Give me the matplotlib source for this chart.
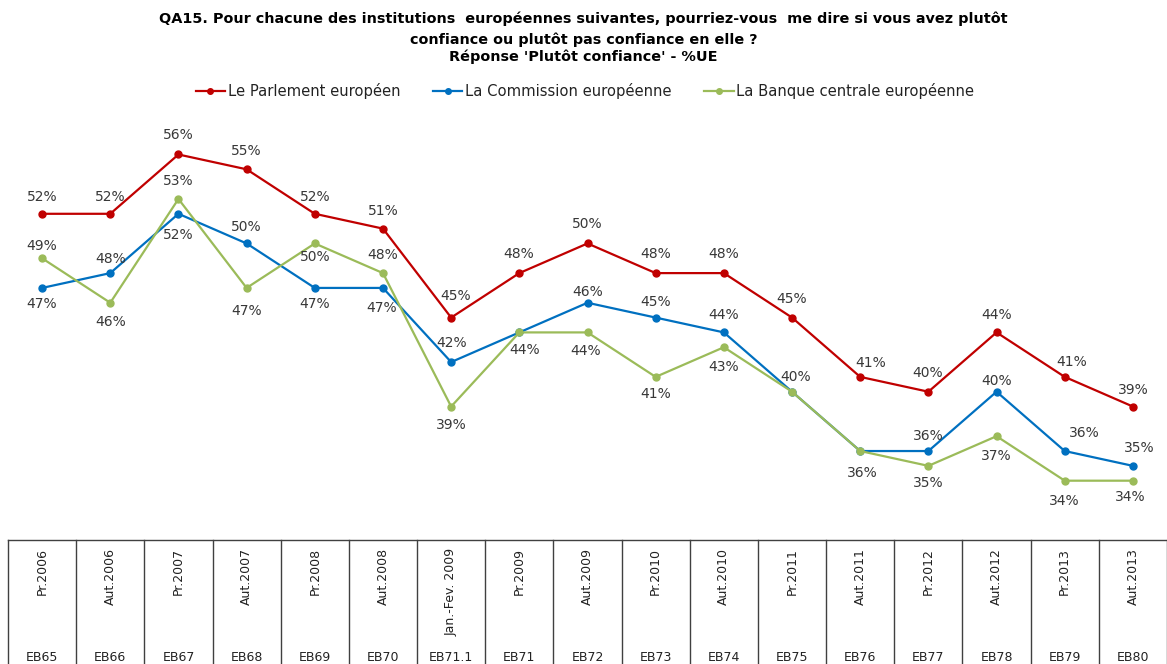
import matplotlib
matplotlib.use("Agg")
import matplotlib.pyplot as plt
from matplotlib.lines import Line2D

# données
periodes = ["Pr.2006", "Aut.2006", "Pr.2007", "Aut.2007", "Pr.2008", "Aut.2008",
            "Jan.-Fev. 2009", "Pr.2009", "Aut.2009", "Pr.2010", "Aut.2010", "Pr.2011",
            "Aut.2011", "Pr.2012", "Aut.2012", "Pr.2013", "Aut.2013"]
vagues = ["EB65", "EB66", "EB67", "EB68", "EB69", "EB70", "EB71.1", "EB71", "EB72",
          "EB73", "EB74", "EB75", "EB76", "EB77", "EB78", "EB79", "EB80"]
parlement = [52, 52, 56, 55, 52, 51, 45, 48, 50, 48, 48, 45, 41, 40, 44, 41, 39]
commission = [47, 48, 52, 50, 47, 47, 42, 44, 46, 45, 44, 40, 36, 36, 40, 36, 35]
bce = [49, 46, 53, 47, 50, 48, 39, 44, 44, 41, 43, 40, 36, 35, 37, 34, 34]

noms = ["Le Parlement européen", "La Commission européenne", "La Banque centrale européenne"]
couleurs = ["#C00000", "#0070C0", "#9BBB59"]

# placement des étiquettes (décalage en pixels, None = pas d'étiquette)
off_parl = [(0, 17), (0, 17), (0, 19), (0, 18), (0, 17), (0, 18), (4, 22), (-1, 19), (0, 19),
            (0, 19), (0, 19), (0, 19), (10, 14), (-1, 19), (0, 17), (7, 15), (0, 17)]
off_comm = [(0, -16), (0, 14), (0, -21), (0, 16), (0, -16), (-1, -20), (0, 19), None, (0, 11),
            (0, 16), (0, 17), (4, 15), None, (0, 15), (0, 11), (20, 18), (6, 18)]
off_bce = [(0, 12), (0, -19), (0, 18), (0, -23), (0, -14), (0, 18), (0, -18), (5, -18), (-2, -19),
           (0, -17), (0, -20), None, (2, -22), (0, -17), (0, -20), (0, -20), (-3, -16)]

W, H = 1167, 664
fig = plt.figure(figsize=(W / 100, H / 100), dpi=100)

ax = fig.add_axes([8 / W, (H - 540) / H, (W - 8) / W, 430 / H])
ax.set_xlim(-0.5, 16.5)
ax.set_ylim(30, 59)
ax.axis("off")

x = list(range(len(periodes)))
for vals, offs, col in [(parlement, off_parl, couleurs[0]),
                        (commission, off_comm, couleurs[1]),
                        (bce, off_bce, couleurs[2])]:
    ax.plot(x, vals, color=col, lw=1.6, marker="o", ms=5, clip_on=False)
    for xi, v, o in zip(x, vals, offs):
        if o is None:
            continue
        ax.annotate(f"{v}%", (xi, v), xytext=o, textcoords="offset pixels",
                    ha="center", va="center", fontsize=10, color="#383838")

# tableau en bas
tb = fig.add_axes([8 / W, 0, (W - 8) / W, 124 / H])
tb.set_xlim(-0.5, 16.5)
tb.set_ylim(0, 1)
tb.axis("off")
tb.plot([-0.5, 16.5], [1, 1], color="#404040", lw=1, clip_on=False)
for k in range(len(periodes) + 1):
    tb.plot([k - 0.5, k - 0.5], [-0.1, 1], color="#404040", lw=1, clip_on=False)
for xi, p, v in zip(x, periodes, vagues):
    tb.text(xi, 0.935, p, rotation=90, ha="center", va="top", fontsize=9, color="#222222")
    tb.text(xi, 0.05, v, ha="center", va="center", fontsize=9, color="#222222")

# titre
fig.text(0.5, 1 - 19 / H, "QA15. Pour chacune des institutions  européennes suivantes, pourriez-vous  me dire si vous avez plutôt",
         ha="center", va="center", fontsize=10.4, fontweight="bold")
fig.text(0.5, 1 - 40 / H, "confiance ou plutôt pas confiance en elle ?",
         ha="center", va="center", fontsize=10.4, fontweight="bold")
fig.text(0.5, 1 - 57 / H, "Réponse 'Plutôt confiance' - %UE",
         ha="center", va="center", fontsize=10.4, fontweight="bold")

handles = [Line2D([], [], color=c, lw=1.6, marker="o", ms=4) for c in couleurs]
fig.legend(handles, noms, loc="center", bbox_to_anchor=(585 / W, 1 - 91 / H), ncol=3,
           frameon=False, fontsize=10.6, handlelength=2.0, handletextpad=0.2,
           columnspacing=2.2, labelcolor="#222222")

fig.savefig("out.png", dpi=100)
